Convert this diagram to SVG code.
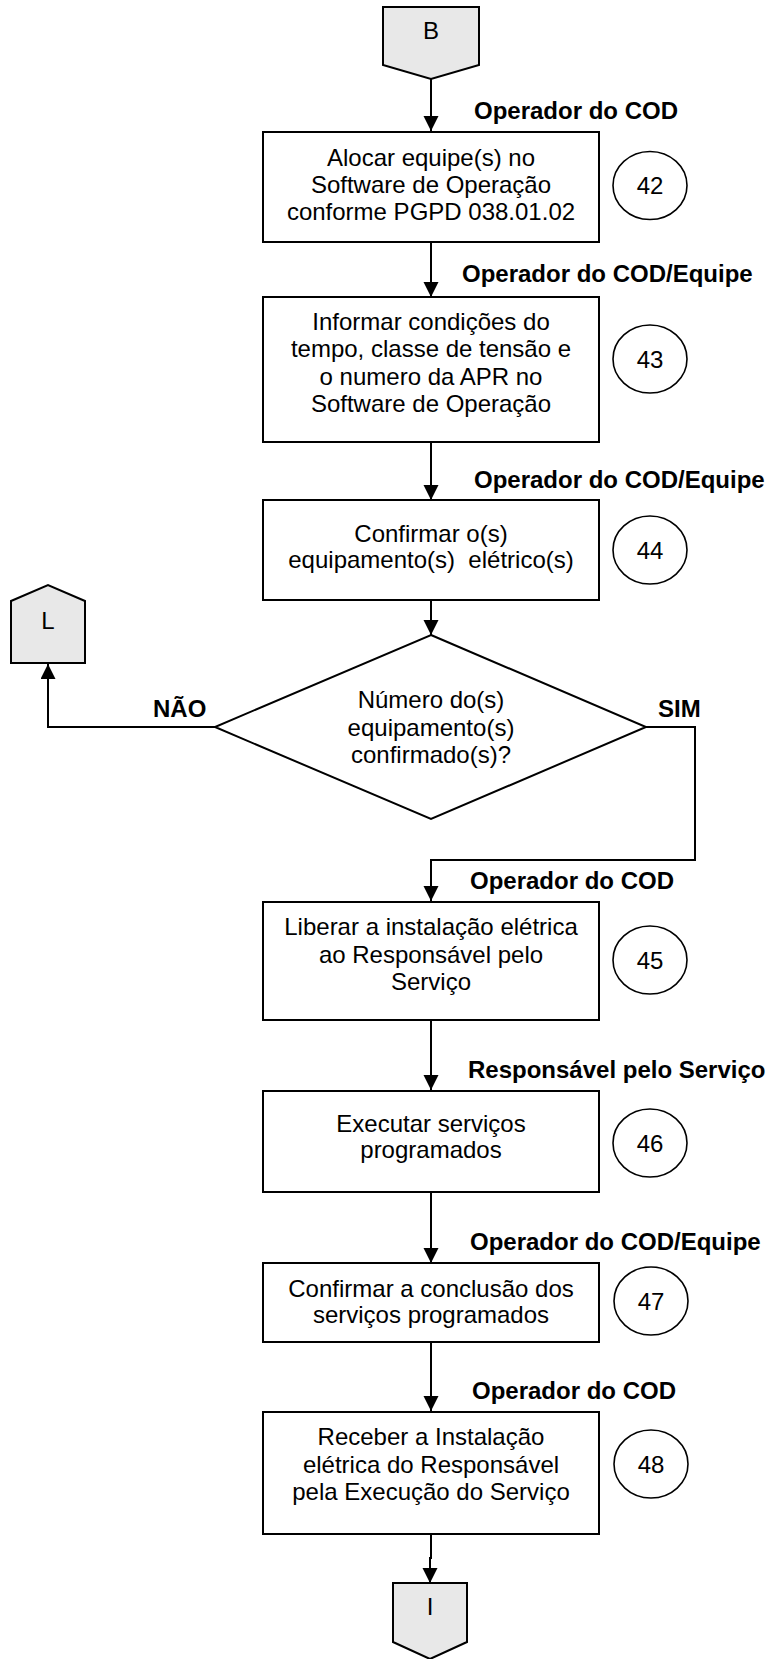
<svg xmlns="http://www.w3.org/2000/svg" width="768" height="1659" viewBox="0 0 768 1659">
<style>
text{font-family:"Liberation Sans",Arial,Helvetica,sans-serif;font-size:24px;fill:#000}
.c{text-anchor:middle}
.b{font-weight:bold}
.box{fill:#fff;stroke:#000;stroke-width:2}
.conn{fill:#e8e8e8;stroke:#000;stroke-width:2}
.num{fill:#fff;stroke:#000;stroke-width:1.6}
.ln{fill:none;stroke:#000;stroke-width:2}
</style>
<defs>
<marker id="ah" markerUnits="userSpaceOnUse" markerWidth="16" markerHeight="16" refX="15" refY="7.5" orient="auto">
<path d="M0,0 L15,7.5 L0,15 z" fill="#000"/>
</marker>
</defs>
<rect width="768" height="1659" fill="#fff"/>
<g id="connectors">
<path class="ln" d="M431,79 V131" marker-end="url(#ah)"/>
<path class="ln" d="M431,242 V297" marker-end="url(#ah)"/>
<path class="ln" d="M431,442 V500" marker-end="url(#ah)"/>
<path class="ln" d="M431,600 V635" marker-end="url(#ah)"/>
<path class="ln" d="M215,727 H48 V664" marker-end="url(#ah)"/>
<path class="ln" d="M646,727 H695 V860 H431 V901" marker-end="url(#ah)"/>
<path class="ln" d="M431,1020 V1090" marker-end="url(#ah)"/>
<path class="ln" d="M431,1192 V1263" marker-end="url(#ah)"/>
<path class="ln" d="M431,1342 V1411" marker-end="url(#ah)"/>
<path class="ln" d="M431,1534 V1558 H430 V1583" marker-end="url(#ah)"/>
<text class="b" x="153" y="717">NÃO</text>
<text class="b" x="658" y="717">SIM</text>
</g>
<g id="conB">
<polygon class="conn" points="383,7 479,7 479,65 431,79 383,65"/>
<text class="c" x="431" y="39">B</text>
</g>
<g id="n42">
<text class="b" x="474" y="119">Operador do COD</text>
<rect class="box" x="263" y="132" width="336" height="110"/>
<text class="c" x="431" y="166">Alocar equipe(s) no</text>
<text class="c" x="431" y="193">Software de Operação</text>
<text class="c" x="431" y="220">conforme PGPD 038.01.02</text>
<ellipse class="num" cx="650" cy="185.5" rx="37" ry="34"/>
<text class="c" x="650" y="194">42</text>
</g>
<g id="n43">
<text class="b" x="462" y="282">Operador do COD/Equipe</text>
<rect class="box" x="263" y="297" width="336" height="145"/>
<text class="c" x="431" y="330">Informar condições do</text>
<text class="c" x="431" y="357">tempo, classe de tensão e</text>
<text class="c" x="431" y="385">o numero da APR no</text>
<text class="c" x="431" y="412">Software de Operação</text>
<ellipse class="num" cx="650" cy="359" rx="37" ry="34"/>
<text class="c" x="650" y="367.5">43</text>
</g>
<g id="n44">
<text class="b" x="474" y="488">Operador do COD/Equipe</text>
<rect class="box" x="263" y="500" width="336" height="100"/>
<text class="c" x="431" y="542">Confirmar o(s)</text>
<text class="c" x="431" y="568" xml:space="preserve">equipamento(s)  elétrico(s)</text>
<ellipse class="num" cx="650" cy="550" rx="37" ry="34"/>
<text class="c" x="650" y="558.5">44</text>
</g>
<g id="conL">
<polygon class="conn" points="11,601 48,585 85,601 85,663 11,663"/>
<text class="c" x="48" y="629">L</text>
</g>
<g id="decision">
<polygon class="box" points="431,635 646,727 431,819 215,727"/>
<text class="c" x="431" y="708">Número do(s)</text>
<text class="c" x="431" y="736">equipamento(s)</text>
<text class="c" x="431" y="763">confirmado(s)?</text>
</g>
<g id="n45">
<text class="b" x="470" y="889">Operador do COD</text>
<rect class="box" x="263" y="902" width="336" height="118"/>
<text class="c" x="431" y="935">Liberar a instalação elétrica</text>
<text class="c" x="431" y="963">ao Responsável pelo</text>
<text class="c" x="431" y="990">Serviço</text>
<ellipse class="num" cx="650" cy="960" rx="37" ry="34"/>
<text class="c" x="650" y="968.5">45</text>
</g>
<g id="n46">
<text class="b" x="468" y="1078">Responsável pelo Serviço</text>
<rect class="box" x="263" y="1091" width="336" height="101"/>
<text class="c" x="431" y="1132">Executar serviços</text>
<text class="c" x="431" y="1158">programados</text>
<ellipse class="num" cx="650" cy="1143" rx="37" ry="34"/>
<text class="c" x="650" y="1151.5">46</text>
</g>
<g id="n47">
<text class="b" x="470" y="1250">Operador do COD/Equipe</text>
<rect class="box" x="263" y="1263" width="336" height="79"/>
<text class="c" x="431" y="1297">Confirmar a conclusão dos</text>
<text class="c" x="431" y="1323">serviços programados</text>
<ellipse class="num" cx="651" cy="1301" rx="37" ry="34"/>
<text class="c" x="651" y="1309.5">47</text>
</g>
<g id="n48">
<text class="b" x="472" y="1399">Operador do COD</text>
<rect class="box" x="263" y="1412" width="336" height="122"/>
<text class="c" x="431" y="1445">Receber a Instalação</text>
<text class="c" x="431" y="1473">elétrica do Responsável</text>
<text class="c" x="431" y="1500">pela Execução do Serviço</text>
<ellipse class="num" cx="651" cy="1464" rx="37" ry="34"/>
<text class="c" x="651" y="1472.5">48</text>
</g>
<g id="conI">
<polygon class="conn" points="393,1583 467,1583 467,1642 430,1659 393,1642"/>
<text class="c" x="430" y="1615">I</text>
</g>
</svg>
